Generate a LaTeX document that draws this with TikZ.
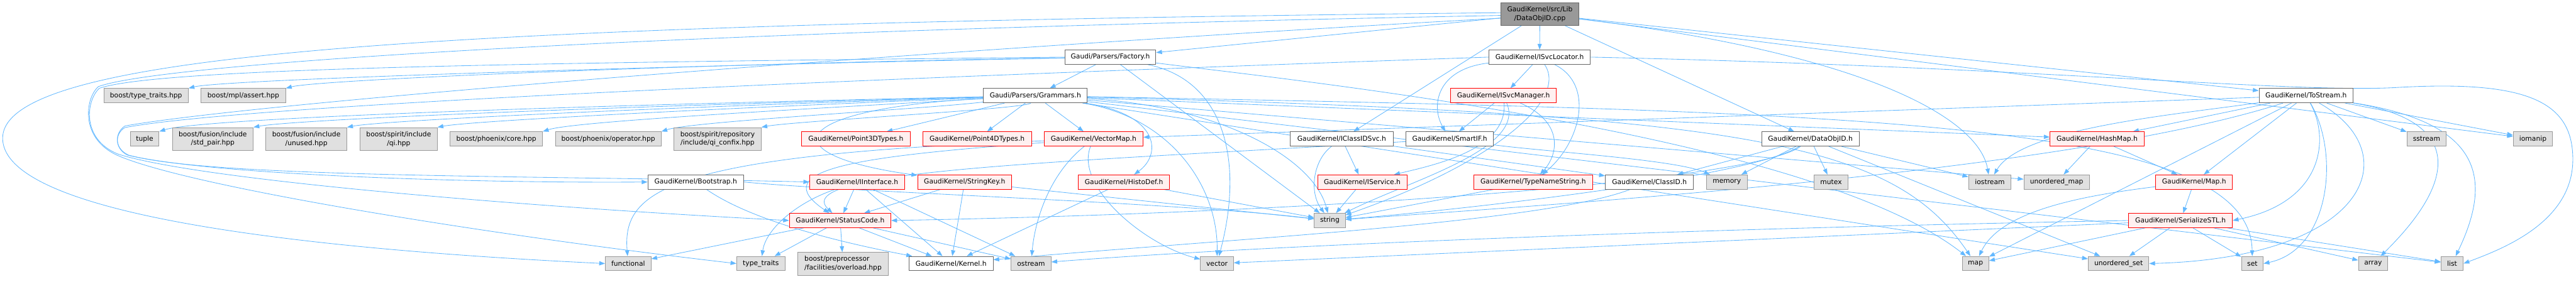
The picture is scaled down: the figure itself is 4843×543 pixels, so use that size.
\documentclass[tikz,border=0pt]{standalone}
\usepackage{fontspec}
\setmainfont{DejaVu Sans}
\usetikzlibrary{arrows.meta}
\definecolor{edgec}{HTML}{63B8FF}
\definecolor{extfill}{HTML}{E0E0E0}
\definecolor{extdraw}{HTML}{999999}
\definecolor{redfill}{HTML}{FFF0F0}
\definecolor{reddraw}{HTML}{FF0000}
\definecolor{wdraw}{HTML}{666666}
\definecolor{rootfill}{HTML}{999999}
\pgfdeclarelayer{bg}
\pgfsetlayers{bg,main}
\tikzset{
  box/.style={rectangle, inner sep=0pt, minimum height=27pt, line width=1pt, text=black},
  wn/.style={box, draw=wdraw, fill=white},
  en/.style={box, draw=extdraw, fill=extfill},
  rn/.style={box, draw=reddraw, fill=redfill},
  rootn/.style={box, draw=wdraw, fill=rootfill},
  two/.style={minimum height=43pt, align=center},
  edge/.style={draw=edgec, line width=1pt, -{Triangle[length=11pt,width=8pt]}}
}
\begin{document}
\begin{tikzpicture}[x=1pt, y=-1pt, font=\fontsize{12.7pt}{16.5pt}\selectfont]
\useasboundingbox (0,0) rectangle (4843,543);
% row 0
\node[rootn, two, minimum width=146pt] (root) at (2895,26.5) {GaudiKernel/src/Lib\\/DataObjID.cpp};
% row 1
\node[wn, minimum width=171pt] (factory) at (2087.5,107.5) {Gaudi/Parsers/Factory.h};
\node[wn, minimum width=191pt] (isvcloc) at (2894.5,107.5) {GaudiKernel/ISvcLocator.h};
% row 2
\node[wn, minimum width=195pt] (grammars) at (1946.5,180) {Gaudi/Parsers/Grammars.h};
\node[rn, minimum width=199pt] (isvcmgr) at (2826.5,180) {GaudiKernel/ISvcManager.h};
\node[wn, minimum width=177pt] (tostream) at (4335.5,180) {GaudiKernel/ToStream.h};
\node[en, minimum width=159pt] (btt) at (274.5,180) {boost/type\_traits.hpp};
\node[en, minimum width=159pt] (mpl) at (457.5,180) {boost/mpl/assert.hpp};
% row 3
\node[en, minimum width=54pt] (tuple) at (272,261.5) {tuple};
\node[en, two, minimum width=152pt] (stdpair) at (400,261.5) {boost/fusion/include\\/std\_pair.hpp};
\node[en, two, minimum width=152pt] (unused) at (576,261.5) {boost/fusion/include\\/unused.hpp};
\node[en, two, minimum width=145pt] (qi) at (749.5,261.5) {boost/spirit/include\\/qi.hpp};
\node[en, minimum width=174pt] (pcore) at (933,261.5) {boost/phoenix/core.hpp};
\node[en, minimum width=199pt] (pop) at (1143.5,261.5) {boost/phoenix/operator.hpp};
\node[en, two, minimum width=164pt] (confix) at (1349,261.5) {boost/spirit/repository\\/include/qi\_confix.hpp};
\node[rn, minimum width=204pt] (p3d) at (1609,261.5) {GaudiKernel/Point3DTypes.h};
\node[rn, minimum width=204pt] (p4d) at (1837,261.5) {GaudiKernel/Point4DTypes.h};
\node[rn, minimum width=186pt] (vmap) at (2056,261.5) {GaudiKernel/VectorMap.h};
\node[wn, minimum width=193pt] (iclassid) at (2522.5,261.5) {GaudiKernel/IClassIDSvc.h};
\node[wn, minimum width=165pt] (smartif) at (2725.5,261.5) {GaudiKernel/SmartIF.h};
\node[wn, minimum width=183pt] (dataobjid) at (3403.5,261.5) {GaudiKernel/DataObjID.h};
\node[rn, minimum width=177pt] (hashmap) at (3942.5,261.5) {GaudiKernel/HashMap.h};
\node[en, minimum width=74pt] (sstream) at (4562,261.5) {sstream};
\node[en, minimum width=74pt] (iomanip) at (4762,261.5) {iomanip};
% row 4
\node[wn, minimum width=180pt] (bootstrap) at (1308,342.5) {GaudiKernel/Bootstrap.h};
\node[rn, minimum width=179pt] (iinterface) at (1611.5,342.5) {GaudiKernel/IInterface.h};
\node[rn, minimum width=177pt] (stringkey) at (1813.5,342.5) {GaudiKernel/StringKey.h};
\node[rn, minimum width=172pt] (histodef) at (2113,342.5) {GaudiKernel/HistoDef.h};
\node[rn, minimum width=168pt] (iservice) at (2561,342.5) {GaudiKernel/IService.h};
\node[rn, minimum width=223pt] (tns) at (2882.5,342.5) {GaudiKernel/TypeNameString.h};
\node[wn, minimum width=166pt] (classid) at (3101,342.5) {GaudiKernel/ClassID.h};
\node[en, minimum width=77pt] (memory) at (3246.5,342.5) {memory};
\node[en, minimum width=63pt] (mutex) at (3442.5,342.5) {mutex};
\node[en, minimum width=80pt] (iostream) at (3741,342.5) {iostream};
\node[en, minimum width=123pt] (umap) at (3866.5,342.5) {unordered\_map};
\node[rn, minimum width=144pt] (maph) at (4125,342.5) {GaudiKernel/Map.h};
% row 5
\node[rn, minimum width=191pt] (statuscode) at (1579.5,415) {GaudiKernel/StatusCode.h};
\node[en, minimum width=58pt] (string) at (2500,415) {string};
\node[rn, minimum width=195pt] (serialize) at (4099.5,415) {GaudiKernel/SerializeSTL.h};
% row 6
\node[en, minimum width=86pt] (functional) at (1181,496) {functional};
\node[en, minimum width=91pt] (typetraits) at (1430.5,496) {type\_traits};
\node[en, minimum width=170pt, minimum height=43pt, align=left] (overload) at (1585,496.5) {boost/preprocessor\\/facilities/overload.hpp};
\node[wn, minimum width=158pt] (kernel) at (1788,496) {GaudiKernel/Kernel.h};
\node[en, minimum width=75pt] (ostream) at (1938.5,496) {ostream};
\node[en, minimum width=62pt] (vector) at (2288,496) {vector};
\node[en, minimum width=50pt] (map) at (3714,496) {map};
\node[en, minimum width=114pt] (uset) at (3983,496) {unordered\_set};
\node[en, minimum width=41pt] (set) at (4234.5,496) {set};
\node[en, minimum width=55pt] (array) at (4461.5,496) {array};
\node[en, minimum width=42pt] (list) at (4610,496) {list};

\begin{pgfonlayer}{bg}
% root
\draw[edge] (root) -- (factory);
\draw[edge] (root) -- (isvcloc);
\draw[edge] (root) -- (iclassid);
\draw[edge] (root) -- (dataobjid);
\draw[edge] (root) -- (tostream);
\draw[edge] (root) -- (iomanip);
\draw[edge] (root) .. controls (3500,100) and (3720,220) .. (iostream);
\draw[edge] (root.178) .. controls (800,45) and (5,100) .. (5,260) .. controls (5,420) and (700,475) .. (functional.west);
\draw[edge] (root.182) .. controls (1200,60) and (300,120) .. (185,163) .. controls (160,185) and (150,260) .. (220,292) .. controls (350,350) and (900,440) .. (typetraits.west);
\draw[edge] (root.186) .. controls (1800,90) and (500,190) .. (235,237) .. controls (215,250) and (215,280) .. (240,292) .. controls (400,330) and (900,345) .. (bootstrap.west);
% factory
\draw[edge] (factory) -- (grammars);
\draw[edge] (factory) .. controls (1200,125) and (420,150) .. (btt.north east);
\draw[edge] (factory) .. controls (1300,120) and (600,150) .. (mpl.north east);
\draw[edge] (factory) -- (string);
\draw[edge] (factory.west) .. controls (1000,118) and (300,128) .. (187,166) .. controls (162,188) and (152,262) .. (222,290) .. controls (380,340) and (1000,390) .. (statuscode.west);
\draw[edge] (factory) .. controls (2300,150) and (2340,300) .. (vector);
\draw[edge] (factory) .. controls (2420,150) and (3400,250) .. (map);
% isvclocator
\draw[edge] (isvcloc) -- (isvcmgr);
\draw[edge] (isvcloc) .. controls (2700,130) and (2690,200) .. (smartif);
\draw[edge] (isvcloc) .. controls (3000,160) and (2970,270) .. (tns);
\draw[edge] (isvcloc) .. controls (2950,190) and (2800,310) .. (string);
\draw[edge] (isvcloc.east) .. controls (3800,125) and (4300,175) .. (4500,165) .. controls (4750,150) and (4837,190) .. (4837,300) .. controls (4837,420) and (4700,470) .. (list.east);
\draw[edge] (isvcloc.west) .. controls (2000,135) and (500,190) .. (235,240) .. controls (215,252) and (215,280) .. (242,292) .. controls (400,335) and (1000,330) .. (iinterface.west);
% isvcmanager
\draw[edge] (isvcmgr) -- (smartif);
\draw[edge] (isvcmgr) .. controls (2835,280) and (2700,310) .. (iservice);
\draw[edge] (isvcmgr) .. controls (2940,230) and (2930,290) .. (tns);
\draw[edge] (isvcmgr) .. controls (2870,280) and (2650,340) .. (string);
% grammars
\foreach \t/\xr in {tuple/299, stdpair/476, unused/652, qi/822, pcore/1020, pop/1243, confix/1431}
  {\draw[edge] (grammars) .. controls ({\xr+500},205) and ({\xr+60},228) .. (\t.north east);}
\foreach \t in {p3d,p4d,vmap,hashmap,list,umap,uset}
  {\draw[edge] (grammars) -- (\t);}
\draw[edge] (grammars) .. controls (1480,205) and (1440,290) .. (stringkey);
\draw[edge] (grammars) .. controls (2180,215) and (2185,290) .. (histodef);
\draw[edge] (grammars) .. controls (2200,220) and (2290,350) .. (vector);
\draw[edge] (grammars) .. controls (2300,200) and (2470,300) .. (string);
\draw[edge] (grammars) .. controls (3300,215) and (3560,270) .. (map);
\draw[edge] (grammars) .. controls (3500,210) and (4230,225) .. (set);
% tostream
\draw[edge] (tostream) -- (vmap);
\draw[edge] (tostream) -- (hashmap);
\draw[edge] (tostream) -- (maph);
\draw[edge] (tostream) -- (sstream);
\draw[edge] (tostream) -- (iomanip);
\draw[edge] (tostream) -- (map);
\draw[edge] (tostream) .. controls (4380,260) and (4370,380) .. (serialize.east);
\draw[edge] (tostream) .. controls (4620,225) and (4630,330) .. (array);
\draw[edge] (tostream) .. controls (4660,230) and (4690,330) .. (list);
\draw[edge] (tostream) .. controls (4400,290) and (4380,470) .. (set.east);
\draw[edge] (tostream) .. controls (4530,290) and (4450,485) .. (uset.east);
\draw[edge] (tostream) .. controls (4100,215) and (3800,240) .. (iostream);
\draw[edge] (tostream) .. controls (3900,320) and (3000,380) .. (string);
% dataobjid
\draw[edge] (dataobjid) -- (classid);
\draw[edge] (dataobjid) -- (memory);
\draw[edge] (dataobjid) -- (mutex);
\draw[edge] (dataobjid) -- (iostream);
\draw[edge] (dataobjid) -- (uset);
\draw[edge] (dataobjid) .. controls (3300,330) and (2800,390) .. (string);
\draw[edge] (dataobjid) .. controls (3300,340) and (2500,400) .. (statuscode.east);
% smartif, iclassid, iservice, tns, classid
\draw[edge] (smartif) .. controls (2900,285) and (3150,300) .. (memory);
\draw[edge] (smartif) .. controls (2000,305) and (1480,320) .. (statuscode);
\draw[edge] (iclassid) -- (iservice);
\draw[edge] (iclassid) .. controls (2470,300) and (2460,360) .. (string);
\draw[edge] (iclassid) -- (classid);
\draw[edge] (iservice) -- (string);
\draw[edge] (tns) -- (string);
\draw[edge] (classid) .. controls (2900,420) and (2300,450) .. (kernel);
% hashmap, map.h, serialize
\draw[edge] (hashmap) -- (umap);
\draw[edge] (hashmap) -- (maph);
\draw[edge] (maph) -- (serialize);
\draw[edge] (maph) .. controls (3900,370) and (3760,400) .. (map);
\draw[edge] (serialize) -- (uset);
\draw[edge] (serialize) -- (set);
\draw[edge] (serialize) -- (map);
\draw[edge] (serialize) -- (array);
\draw[edge] (serialize) -- (list);
\draw[edge] (serialize) -- (vector);
\draw[edge] (serialize.west) .. controls (3200,430) and (2400,460) .. (ostream);
% histodef, stringkey
\draw[edge] (histodef) -- (kernel);
\draw[edge] (histodef) -- (string);
\draw[edge] (stringkey) -- (statuscode);
\draw[edge] (stringkey) -- (kernel);
\draw[edge] (stringkey) -- (string);
% iinterface
\draw[edge] (iinterface) -- (statuscode);
\draw[edge] (iinterface) -- (kernel);
\draw[edge] (iinterface) -- (ostream);
\draw[edge] (iinterface) .. controls (1500,380) and (1440,430) .. (typetraits);
% statuscode
\draw[edge] (statuscode) -- (overload);
\draw[edge] (statuscode) -- (kernel);
\draw[edge] (statuscode) -- (typetraits);
\draw[edge] (statuscode) -- (functional);
\draw[edge] (statuscode) -- (ostream);
% vectormap
\draw[edge] (vmap) .. controls (1250,292) and (1170,360) .. (functional);
\draw[edge] (vmap) .. controls (1600,295) and (1440,320) .. (statuscode);
\draw[edge] (vmap) .. controls (1970,330) and (1945,420) .. (ostream);
\draw[edge] (vmap) .. controls (2020,350) and (2150,460) .. (vector);
% bootstrap
\draw[edge] (bootstrap) .. controls (1420,420) and (1600,460) .. (kernel);
\draw[edge] (bootstrap.east) .. controls (1600,362) and (2200,380) .. (string);
\end{pgfonlayer}
\end{tikzpicture}
\end{document}
